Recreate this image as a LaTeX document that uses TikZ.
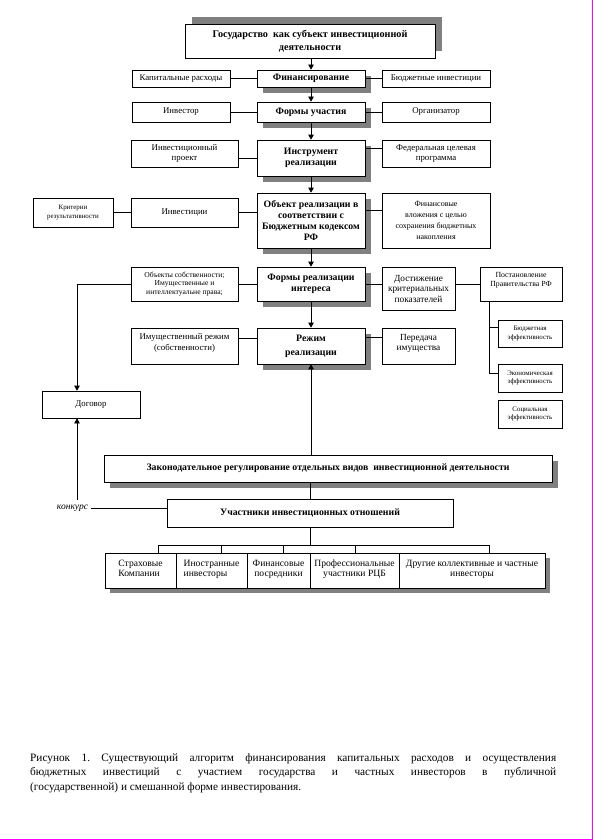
\documentclass[tikz,border=0pt]{standalone}
\usepackage{fontspec}
\setmainfont{Liberation Serif}
\usetikzlibrary{arrows.meta,shadows,calc}
\definecolor{shgray}{RGB}{128,128,128}
\definecolor{pagemag}{RGB}{255,0,255}
\tikzset{
  bx/.style={draw, line width=0.7pt, fill=white, align=center, inner sep=1pt},
  shd/.style={drop shadow={shadow xshift=6pt, shadow yshift=-6pt, fill=shgray, opacity=1}},
  shdup/.style={drop shadow={shadow xshift=7pt, shadow yshift=7pt, fill=shgray, opacity=1}},
  fmain/.style={font=\bfseries\fontsize{9.8}{10.8}\selectfont},
  ftitle/.style={font=\bfseries\fontsize{10.2}{13.5}\selectfont},
  freg/.style={font=\fontsize{8.8}{10.5}\selectfont},
  frbig/.style={font=\fontsize{9.3}{10.5}\selectfont},
  fmid/.style={font=\fontsize{8}{10.8}\selectfont},
  fsm/.style={font=\fontsize{7.6}{8.2}\selectfont},
  fpost/.style={font=\fontsize{7.8}{9}\selectfont},
  fxs/.style={font=\fontsize{6.9}{8.5}\selectfont},
  fbot/.style={font=\fontsize{9.6}{10}\selectfont},
  ln/.style={line width=0.7pt},
  arr/.style={line width=0.7pt, -{Triangle[length=5pt,width=5.5pt]}},
}
\begin{document}
\begin{tikzpicture}[x=1pt,y=-1pt]
\useasboundingbox (0,0) rectangle (593,840);
\draw[pagemag, line width=1.2pt] (592.4,0) -- (592.4,839.2) -- (0,839.2);

% central column
\node[bx,shdup,ftitle,minimum width=250pt,minimum height=34pt] (top) at (310,41) {Государство\ \ как субъект инвестиционной\\деятельности};
\node[bx,shd,fmain,minimum width=108pt,minimum height=17pt] (fin) at (311,78.5) {Финансирование};
\node[bx,freg,minimum width=98pt,minimum height=17pt] (kap) at (181,78.5) {Капитальные расходы};
\node[bx,freg,minimum width=108pt,minimum height=17pt] (bud) at (436,78.5) {Бюджетные инвестиции};

\node[bx,shd,fmain,minimum width=108pt,minimum height=20pt] (fu) at (311,112) {Формы участия};
\node[bx,freg,minimum width=98pt,minimum height=20pt] (inv) at (181,112) {Инвестор};
\node[bx,freg,minimum width=108pt,minimum height=20pt] (org) at (436,112) {Организатор};

\node[bx,shd,fmain,minimum width=108pt,minimum height=36pt] (instr) at (311,158) {Инструмент\\реализации};
\node[bx,freg,minimum width=107pt,minimum height=27pt] (ip) at (184.5,153.5) {Инвестиционный\\проект};
\node[bx,freg,minimum width=108pt,minimum height=27pt] (fcp) at (436,153.5) {Федеральная целевая\\программа};

\node[bx,shd,fmain,minimum width=108pt,minimum height=55pt] (obj) at (311,220.5) {Объект реализации в\\соответствии с\\Бюджетным кодексом\\РФ};
\node[bx,freg,minimum width=107pt,minimum height=29pt] (invst) at (184.5,212.5) {Инвестиции};
\node[bx,fxs,minimum width=80pt,minimum height=29pt] (krit) at (73,212.5) {Критерии\\результативности};
\node[bx,fmid,minimum width=108pt,minimum height=55pt] (fv) at (436,220.5) {Финансовые\\вложения с целью\\сохранения бюджетных\\накопления};

\node[bx,shd,fmain,minimum width=108pt,minimum height=34pt] (fri) at (311,284) {Формы реализации\\интереса};
\node[bx,fsm,minimum width=107pt,minimum height=34pt] (objs) at (184.5,284) {Объекты собственности;\\Имущественные и\\интеллектуальне права;};
\node[bx,frbig,minimum width=73pt,minimum height=43pt] (dost) at (418.5,288.5) {Достижение\\критериальных\\показателей};
\node[bx,fpost,minimum width=82pt,minimum height=34pt] (post) at (521,284) {Постановление\\Правительства РФ\\\mbox{}};

\node[bx,shd,fmain,minimum width=108pt,minimum height=36pt] (rr) at (311,346) {Режим\\[3pt]реализации};
\node[bx,freg,minimum width=107pt,minimum height=36pt] (imr) at (184.5,346) {Имущественный режим\\(собственности)\\[-2pt]\mbox{}};
\node[bx,frbig,minimum width=73pt,minimum height=36pt] (per) at (418.5,346) {Передача\\имущества\\[-3pt]\mbox{}};

\node[bx,fxs,minimum width=64pt,minimum height=27pt] (be) at (530,333.5) {Бюджетная\\эффективность};
\node[bx,fxs,minimum width=64pt,minimum height=28pt] (ee) at (530,378) {Экономическая\\эффективность};
\node[bx,fxs,minimum width=64pt,minimum height=28pt] (se) at (530,414) {Социальная\\эффективность};

\node[bx,freg,minimum width=98pt,minimum height=27pt] (dog) at (91,404.5) {Договор};

\node[bx,shd,fmain,minimum width=448pt,minimum height=27pt] (zak) at (328,468.5) {Законодательное регулирование отдельных видов\ \ инвестиционной деятельности};
\node[bx,fmain,minimum width=286pt,minimum height=28pt] (uch) at (310,513) {Участники инвестиционных отношений};
\node[font=\itshape\fontsize{9.5}{10}\selectfont, inner sep=1pt] (konk) at (72.5,508) {конкурс};

% bottom row
\fill[shgray] (110,558) rectangle (550,593);
\node[bx,fbot,minimum width=71pt,minimum height=35pt,align=left] (c1) at (140.5,570.5) {Страховые\\Компании\\[-6pt]\mbox{}};
\node[bx,fbot,minimum width=71pt,minimum height=35pt,align=left] (c2) at (211.5,570.5) {Иностранные\\инвесторы\\[-6pt]\mbox{}};
\node[bx,fbot,minimum width=63pt,minimum height=35pt] (c3) at (278.5,570.5) {Финансовые\\посредники\\[-6pt]\mbox{}};
\node[bx,fbot,minimum width=89pt,minimum height=35pt] (c4) at (354.5,570.5) {Профессиональные\\участники РЦБ\\[-6pt]\mbox{}};
\node[bx,fbot,minimum width=146pt,minimum height=35pt] (c5) at (472,570.5) {Другие коллективные и частные\\инвесторы\\[-6pt]\mbox{}};

% caption
\node[anchor=north west, inner sep=0pt, text width=526pt, align=justify,
      font=\fontsize{11.3}{14.5}\selectfont] (cap) at (30,753)
  {\frenchspacing\hyphenpenalty=10000 Рисунок 1. Существующий алгоритм финансирования капитальных расходов и осуществления\linebreak бюджетных инвестиций с участием государства и частных инвесторов в публичной\linebreak (государственной) и смешанной форме инвестирования.};

% vertical chain
\draw[arr] (top.south -| fin.north) -- (fin.north);
\draw[arr] (fin.south) -- (fu.north);
\draw[arr] (fu.south) -- (instr.north);
\draw[arr] (instr.south) -- (obj.north);
\draw[arr] (obj.south) -- (fri.north);
\draw[arr] (fri.south) -- (rr.north);
\draw[arr] (zak.north -| rr.south) -- (rr.south);

% side links
\draw[ln] (kap.east) -- (fin.west);
\draw[ln] (fin.east) -- (bud.west);
\draw[ln] (inv.east) -- (fu.west);
\draw[ln] (fu.east) -- (org.west);
\draw[ln] (instr.west) -- (instr.west -| ip.east);
\coordinate (fcpw) at ([yshift=5pt]fcp.west);
\draw[ln] (fcpw) -- (fcpw -| instr.east);
\draw[ln] (krit.east) -- (invst.west);
\draw[ln] (invst.east) -- (invst.east -| obj.west);
\coordinate (fvw) at ([yshift=10pt]fv.west);
\draw[ln] (fvw) -- (fvw -| obj.east);
\draw[ln] (objs.east) -- (fri.west);
\draw[ln] (fri.east) -- (fri.east -| dost.west);
\draw[ln] (post.west) -- (post.west -| dost.east);
\coordinate (rrw) at ([yshift=8pt]rr.west);
\draw[ln] (rrw) -- (rrw -| imr.east);
\coordinate (rre) at ([yshift=9pt]rr.east);
\draw[ln] (rre) -- (rre -| per.west);

% efficiency branch
\coordinate (pb) at ([xshift=-32pt]post.south);
\coordinate (bew) at ([yshift=6pt]be.west);
\coordinate (eew) at ([yshift=5pt]ee.west);
\draw[ln] (pb) |- (eew);
\draw[ln] (pb |- bew) -- (bew);

% contract
\draw[arr] (objs.west) -| ([xshift=-14pt]dog.north);
\draw[arr, shorten <=4pt] ([xshift=4.5pt]konk.north) -- ([xshift=-14pt]dog.south);
\draw[ln, shorten <=2pt] (konk.east) -- (konk.east -| uch.west);

% participants
\draw[ln] (uch.north |- zak.south) -- (uch.north);
\coordinate (bar) at ($(uch.south)+(0,18)$);
\draw[ln] (uch.south) -- (bar);
\draw[ln] ([xshift=17.5pt]c1.north) |- (bar) -| ([xshift=17pt]c5.north);
\draw[ln] ([xshift=9.5pt]c2.north) -- ++(0,-8);
\draw[ln] ([xshift=4.5pt]c3.north) -- ++(0,-8);
\draw[ln] ([xshift=0.5pt]c4.north) -- ++(0,-8);
\end{tikzpicture}
\end{document}
